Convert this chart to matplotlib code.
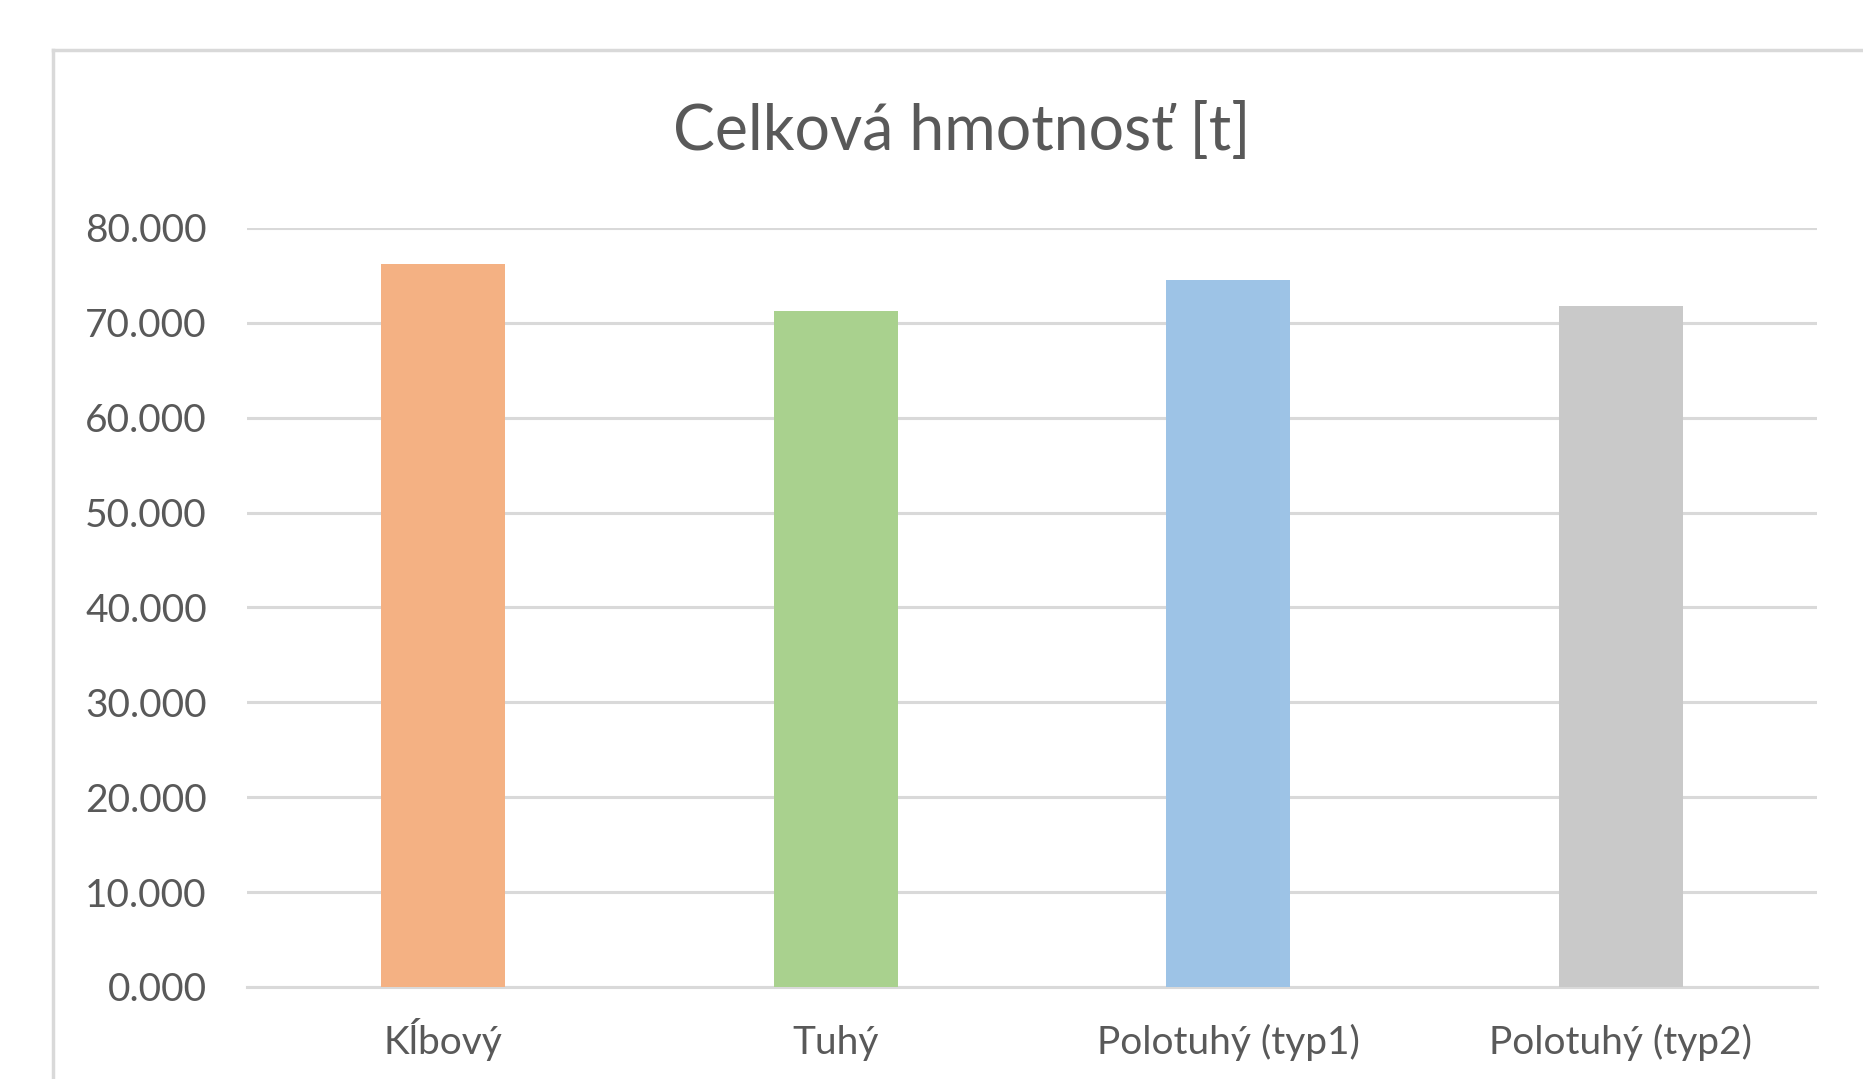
import matplotlib
matplotlib.use("Agg")
from matplotlib import pyplot as plt
from matplotlib.lines import Line2D

plt.rcParams['font.family'] = ['Lato', 'DejaVu Sans']

kategorie = ["Kĺbový", "Tuhý", "Polotuhý (typ1)", "Polotuhý (typ2)"]
hmotnost = [76.2, 71.3, 74.5, 71.8]
farby = ["#F4B183", "#A9D18E", "#9DC3E6", "#C9C9C9"]
y_ticks = [0, 10, 20, 30, 40, 50, 60, 70, 80]

text_col = "#595959"
grid_col = "#D9D9D9"

fig = plt.figure(figsize=(18.63, 10.79), dpi=100)
ax = fig.add_axes([0.1326, 0.0853, 0.8427, 0.7034])

x = range(len(kategorie))
ax.bar(x, hmotnost, width=0.316, color=farby, zorder=3)

ax.set_xlim(-0.5, len(kategorie) - 0.5)
ax.set_ylim(0, 80)
ax.set_yticks(y_ticks)
ax.set_yticklabels(["{:.3f}".format(v) for v in y_ticks])
ax.set_xticks(list(x))
ax.set_xticklabels(kategorie, va="baseline")

ax.tick_params(axis="y", length=0, pad=29, labelsize=28, labelcolor=text_col)
ax.tick_params(axis="x", length=0, pad=48, labelsize=28, labelcolor=text_col)

ax.grid(axis="y", color=grid_col, linewidth=2.2, zorder=0)
ax.set_axisbelow(True)
for s in ["top", "right", "left"]:
    ax.spines[s].set_visible(False)
ax.spines["bottom"].set_color(grid_col)
ax.spines["bottom"].set_linewidth(2.2)

fig.text(0.516, 0.861, "Celková hmotnosť [t]", ha="center", va="baseline",
         fontsize=45, color=text_col)

# okraj grafu
fig.add_artist(Line2D([53 / 1863, 1.0], [1 - 50 / 1079, 1 - 50 / 1079],
                      color=grid_col, linewidth=2.5, transform=fig.transFigure))
fig.add_artist(Line2D([53 / 1863, 53 / 1863], [0.0, 1 - 50 / 1079],
                      color=grid_col, linewidth=2.5, transform=fig.transFigure))

fig.savefig("out.png", dpi=100)
